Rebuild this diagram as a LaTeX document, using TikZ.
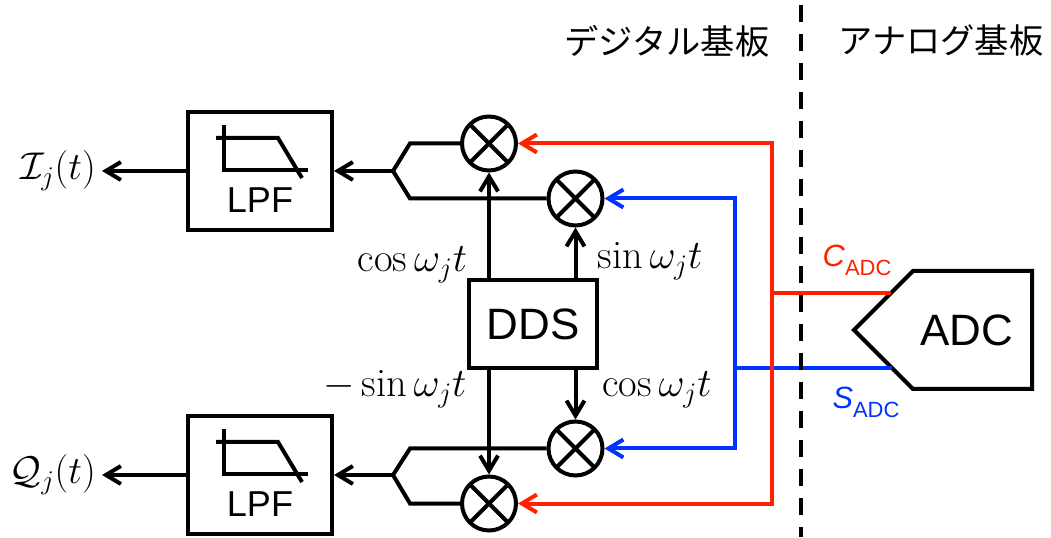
\documentclass[tikz,border=0pt]{standalone}
\usepackage{fix-cm}
\usepackage{fontspec}
\usepackage{tikz}
\usetikzlibrary{arrows.meta,positioning}
\newfontfamily\jp{Noto Sans CJK JP}
\newfontfamily\arial{Liberation Sans}
\definecolor{rojo}{RGB}{255, 34, 0}
\definecolor{azul}{RGB}{0, 51, 255}
\tikzset{
  linea/.style={line width=0.08cm},
  caja/.style={draw, line width=0.08cm, inner sep=0pt},
  mezcla/.style={draw, circle, line width=0.08cm, minimum size=1.08cm, inner sep=0pt,
    path picture={\draw[line width=0.08cm]
      (path picture bounding box.south west) -- (path picture bounding box.north east)
      (path picture bounding box.north west) -- (path picture bounding box.south east);}},
  flecha/.style={linea, -{Straight Barb[length=0.3cm,width=0.36cm]}},
  mate/.style={font=\fontsize{22}{26}\selectfont},
  trig/.style={font=\fontsize{23}{27}\selectfont},
  sans/.style={font=\arial\fontsize{25}{30}\selectfont},
}

\begin{document}
\begin{tikzpicture}
  \useasboundingbox (0,0) rectangle (21.02,10.74);

  % Mezcladores
  \node[mezcla] (M1) at (9.78,7.87) {};
  \node[mezcla] (M2) at (11.51,6.77) {};
  \node[mezcla] (M3) at (11.51,1.77) {};
  \node[mezcla] (M4) at (9.78,0.67) {};

  % DDS
  \node[caja, sans, minimum width=2.56cm, minimum height=1.76cm] (DDS) at (10.66,4.26) {DDS};

  % Filtros pasa bajos
  \node[caja, minimum width=2.88cm, minimum height=2.36cm] (LPF1) at (5.2,7.32) {};
  \node[caja, minimum width=2.88cm, minimum height=2.36cm] (LPF2) at (5.2,1.24) {};
  \foreach \f in {LPF1,LPF2} {
    \draw[linea] ([shift={(-0.72,0.92)}]\f.center) -- ([shift={(-0.72,0.01)}]\f.center)
      -- ([shift={(0.96,0.01)}]\f.center);
    \draw[linea] ([shift={(-0.88,0.66)}]\f.center) -- ([shift={(0.36,0.66)}]\f.center)
      -- ([shift={(0.84,-0.14)}]\f.center);
    \node[font=\arial\fontsize{20.5}{24}\selectfont] (\f-t) at ([yshift=-0.58cm]\f.center) {LPF};
  }

  % Horquillas
  \coordinate (F1) at (7.86,7.32);
  \coordinate (F1k) at (8.2,7.32);
  \coordinate (F2) at (7.86,1.24);
  \coordinate (F2k) at (8.2,1.24);
  \draw[linea] (M1.west) -- (M1 -| F1k) -- (F1) -- (M2 -| F1k) -- (M2.west);
  \draw[linea] (M3.west) -- (M3 -| F2k) -- (F2) -- (M4 -| F2k) -- (M4.west);
  \draw[flecha] (F1) -- (F1 -| LPF1.east);
  \draw[flecha] (F2) -- (F2 -| LPF2.east);

  % Salidas
  \coordinate (Iout) at (2.04,7.32);
  \coordinate (Qout) at (2.04,1.24);
  \draw[flecha] (LPF1.west) -- (Iout);
  \draw[flecha] (LPF2.west) -- (Qout);
  \node[mate, left=0pt of Iout] (Ilab) {$\mathcal{I}_j(t)$};
  \node[mate, left=0pt of Qout] (Qlab) {$\mathcal{Q}_j(t)$};

  % DDS a mezcladores
  \draw[flecha] (DDS.north -| M1) -- (M1);
  \draw[flecha] (DDS.north -| M2) -- (M2);
  \draw[flecha] (DDS.south -| M3) -- (M3);
  \draw[flecha] (DDS.south -| M4) -- (M4);
  \node[trig] (c1) at (8.25,5.44) {$\cos\omega_j t$};
  \node[trig] (s1) at (13.0,5.52) {$\sin\omega_j t$};
  \node[trig] (s2) at (7.9,2.96) {$-\sin\omega_j t$};
  \node[trig] (c2) at (13.14,2.94) {$\cos\omega_j t$};

  % ADC
  \coordinate (A0) at (17.08,4.14);
  \draw[linea] (A0) -- (18.26,5.32) -- (20.64,5.32) -- (20.64,2.96) -- (18.26,2.96) -- cycle;
  \node[sans] (ADC) at (19.34,4.14) {ADC};
  \coordinate (Cin) at (17.82,4.88);
  \coordinate (Sin) at (17.84,3.38);

  % Senales S (azul) y C (rojo)
  \coordinate (Bx) at (14.70,3.38);
  \coordinate (Rx) at (15.44,4.88);
  \draw[linea, azul] (Bx) -- (Sin);
  \draw[flecha, azul] (Bx) |- (M2);
  \draw[flecha, azul] (Bx) |- (M3);
  \draw[linea, rojo] (Rx) -- (Cin);
  \draw[flecha, rojo] (Rx) |- (M1);
  \draw[flecha, rojo] (Rx) |- (M4);
  \node[rojo, font=\arial\fontsize{17.5}{20}\selectfont] (Clab) at (17.14,5.54)
    {\textit{C}\raisebox{-5pt}{\fontsize{12.5}{14}\selectfont ADC}};
  \node[azul, font=\arial\fontsize{17.5}{20}\selectfont] (Slab) at (17.32,2.70)
    {\textit{S}\raisebox{-5pt}{\fontsize{12.5}{14}\selectfont ADC}};

  % Division entre placas
  \draw[linea, dash pattern=on 0.34cm off 0.24cm] (16.02,10.64) -- (16.02,0);
  \node[font=\jp\fontsize{19.5}{23}\selectfont] (dig) at (13.34,9.92) {デジタル基板};
  \node[font=\jp\fontsize{19.5}{23}\selectfont] (ana) at (18.82,9.92) {アナログ基板};
\end{tikzpicture}
\end{document}
